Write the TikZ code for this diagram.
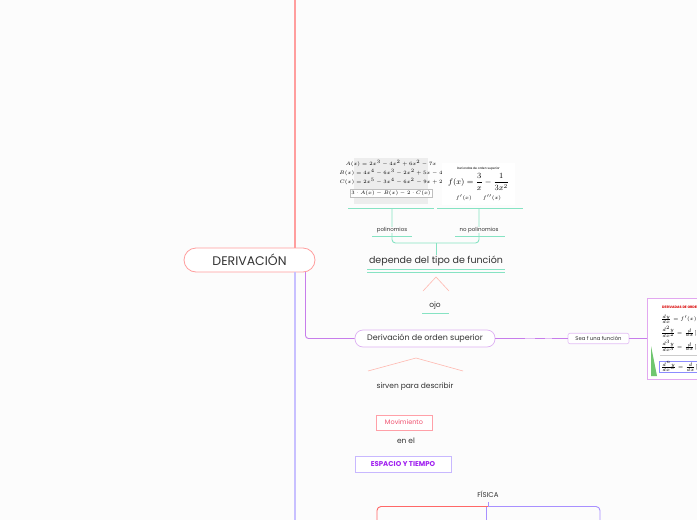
\documentclass[tikz,border=0pt]{standalone}
\usepackage[no-math]{fontspec}
\usepackage{amsmath}
\setmainfont{Poppins}
\definecolor{bg}{HTML}{FCFCFC}
\definecolor{txt}{HTML}{333333}
\definecolor{pinkline}{HTML}{FF9E9E}
\definecolor{lavline}{HTML}{C8C0FF}
\definecolor{purpline}{HTML}{C77DEB}
\definecolor{mint}{HTML}{86E3C3}
\definecolor{caret}{HTML}{FFB8B0}
\definecolor{movtext}{HTML}{F0506E}
\definecolor{movline}{HTML}{FFA0A8}
\definecolor{esptext}{HTML}{A020F0}
\definecolor{espline}{HTML}{C8B8FF}
\definecolor{redline}{HTML}{FF6868}
\definecolor{violine}{HTML}{A890FF}
\definecolor{boxline}{HTML}{E2A8F0}
\begin{document}
\begin{tikzpicture}[x=1pt,y=-1pt,
  lbl/.style={inner sep=1pt, text=txt},
  rootbox/.style={draw=pinkline, line width=0.8pt, rounded corners=12pt, fill=white,
     minimum width=131pt, minimum height=24pt, text=txt, font=\fontsize{12.5}{14}\selectfont},
  pillbox/.style={draw=purpline!60, line width=0.7pt, rounded corners=8pt, fill=white,
     minimum width=140pt, minimum height=17pt, text=txt, font=\fontsize{8}{9}\selectfont},
  smallbox/.style={draw=purpline!50, line width=0.6pt, rounded corners=2pt, fill=white,
     minimum width=61pt, minimum height=10.5pt, inner sep=0pt, text=txt, font=\fontsize{5.3}{6}\selectfont},
  tinylbl/.style={fill=bg, inner sep=0.5pt, text=txt, font=\fontsize{5.5}{6}\selectfont},
  mintline/.style={draw=mint, line width=0.9pt},
  purp/.style={draw=purpline, line width=0.9pt},
  caretline/.style={draw=caret, line width=0.6pt},
  mth/.style={inner sep=0, anchor=west, font=\fontsize{3.8}{4.5}\selectfont}
]
\useasboundingbox (0,0) rectangle (697,520);
\fill[bg] (0,0) rectangle (697,520);
\clip (0,0) rectangle (697,520);

% root
\node[rootbox] (root) at (249.5,260) {DERIVACIÓN};
\coordinate (topend) at (295,0);
\coordinate (botend) at (295,520);
\draw[draw=pinkline, line width=1.1pt] (topend) -- (topend |- root.north);
\draw[draw=lavline, line width=1.3pt] (botend |- root.south) -- (botend);

% Derivacion de orden superior
\node[pillbox] (dos) at (425,338.5) {Derivación de orden superior};
\coordinate (rootout) at (305.5,272);
\draw[purp, rounded corners=3pt] (rootout) |- (dos.west);

% Sea f una funcion
\node[smallbox] (sea) at (598.5,338.5) {Sea f una función};
\draw[purp] (dos.east) -- (sea.west);
\draw[draw=white, line width=0.6pt, opacity=0.5] (525,338.5) -- (535,338.5) (545,338.5) -- (552,338.5);

% right image
\node[draw=boxline, line width=0.8pt, fill=white, minimum width=60pt, minimum height=81pt, inner sep=0pt, anchor=north west] (img3) at (647,298) {};
\draw[purp] (sea.east) -- (img3.west |- sea.east);
\fill[green!60!black!70, opacity=0.8] (651,346) -- (651,376) -- (657,376) -- cycle;
\node[anchor=west, text=red!85!black, inner sep=0, font=\fontsize{3.4}{4}\bfseries] at (662,307) {DERIVADAS DE ORDEN};
\node[mth] at (661,319) {$\frac{dy}{dx}=f'(x)=\lim$};
\node[mth] at (661,332) {$\frac{d^2y}{dx^2}=\frac{d}{dx}[f'(x)]$};
\node[mth] at (661,346) {$\frac{d^3y}{dx^3}=\frac{d}{dx}[f''(x)]$};
\draw[gray!40, line width=0.3pt] (660,355) -- (697,355);
\draw[draw=blue!45, line width=0.5pt, fill=white] (659,361) rectangle (699,372);
\node[mth] at (661,366.5) {$\frac{d^ny}{dx^n}=\frac{d}{dx}[f^{(n-1)}$};

% left image
\node[fill=black!7, minimum width=74pt, minimum height=46pt, inner sep=0pt, anchor=north west] (img1) at (354,158) {};
\node[inner sep=0, font=\fontsize{4.3}{5}\selectfont] at (391,164) {$A(x)=2x^3-4x^2+6x^2-7x$};
\node[inner sep=0, font=\fontsize{4.3}{5}\selectfont] at (391,173) {$B(x)=4x^4-6x^3-2x^2+5x-4$};
\node[inner sep=0, font=\fontsize{4.3}{5}\selectfont] at (391,182) {$C(x)=2x^5-3x^4-6x^2-9x+2$};
\node[draw=gray!50, line width=0.3pt, fill=white, inner sep=1.2pt, font=\fontsize{4.3}{5}\selectfont] at (391,193) {$3\cdot A(x)-B(x)-2\cdot C(x)$};

% right small image
\node[fill=white, minimum width=73pt, minimum height=42pt, inner sep=0pt, anchor=north west] (img2) at (442,163) {};
\node[inner sep=0, font=\fontsize{3}{3.5}\selectfont] at (478.5,168.5) {Derivadas de orden superior};
\node[inner sep=0, font=\fontsize{8}{9}\selectfont] at (478.5,182) {$f(x)=\dfrac{3}{x}-\dfrac{1}{3x^2}$};
\node[inner sep=0, font=\fontsize{5.5}{6}\selectfont] at (478.5,198) {$f'(x)\qquad f''(x)$};

% mint structure
\coordinate (l1a) at (348,208);
\coordinate (l1b) at (434,208);
\coordinate (l2a) at (437,208);
\coordinate (l2b) at (523,208);
\draw[mintline] (l1a) -- (l1b);
\draw[mintline] (l2a) -- (l2b);

\node[lbl, font=\fontsize{9.5}{11}\selectfont] (dep) at (436,261) {depende del tipo de función};
\draw[mintline, line width=0.8pt] (367,269.3) -- (505,269.3) (367,272.5) -- (505,272.5);

\coordinate (br) at (436,243);
\draw[mintline, rounded corners=3.5pt] (392,208) -- (392,243) -- (479,243) -- (479,208);
\draw[mintline] (br) -- (dep.north);

\node[tinylbl] (poly) at (392,230) {polinomios};
\node[tinylbl] (npoly) at (479,230) {no polinomios};
\draw[mintline, line width=0.7pt] (372,236) -- (412,236);
\draw[mintline, line width=0.7pt] (455,236) -- (505,236);

% ojo
\node[lbl, font=\fontsize{7.5}{9}\selectfont] (ojo) at (435,306) {ojo};
\draw[mintline, line width=0.8pt] (422,313) -- (449,313);
\draw[caretline] (423,291) -- (436,277) -- (449,291);

% below
\draw[caretline] (368,371) -- (416,358) -- (463,371);
\node[lbl, font=\fontsize{7.5}{9}\selectfont] (sirv) at (415,387) {sirven para describir};
\node[draw=movline, line width=0.7pt, fill=white, minimum width=56pt, minimum height=15pt, inner sep=0pt, text=movtext, font=\fontsize{6.5}{7}\selectfont] (mov) at (404,422.5) {Movimiento};
\node[lbl, font=\fontsize{7.5}{9}\selectfont] (enel) at (406,441) {en el};
\node[draw=espline, line width=0.7pt, fill=white, minimum width=96pt, minimum height=16pt, inner sep=0pt, text=esptext, font=\fontsize{7}{8}\bfseries] (esp) at (403,464) {ESPACIO Y TIEMPO};

% FISICA
\node[lbl, font=\fontsize{7}{8}\selectfont] (fis) at (488,494) {FÍSICA};
\coordinate (fj) at (488,506.5);
\draw[draw=violine, line width=0.8pt] (488,502) -- (fj);
\draw[draw=redline, line width=0.9pt, rounded corners=4pt] (377,521) -- (377,506.5) -- (fj);
\draw[draw=violine, line width=0.9pt, rounded corners=4pt] (fj) -- (600,506.5) -- (600,521);
\draw[draw=violine, line width=0.9pt] (486,506.5) -- (486,521);
\end{tikzpicture}
\end{document}
